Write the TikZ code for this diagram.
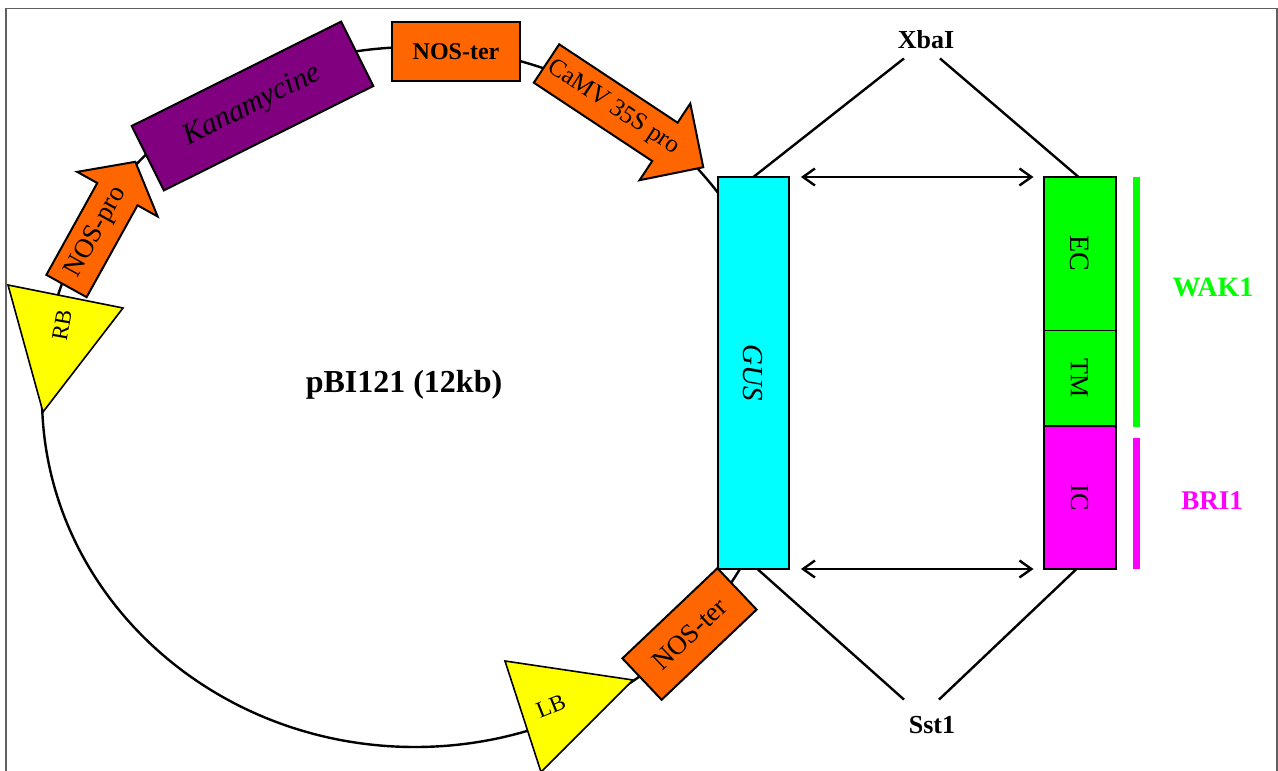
\documentclass[tikz,border=0pt]{standalone}
\usepackage{fontspec}
\setmainfont{Liberation Serif}
\usetikzlibrary{positioning, arrows.meta, calc}
\definecolor{promoorange}{HTML}{FF6600}
\definecolor{kanpurple}{HTML}{800080}
\definecolor{bordeyellow}{HTML}{FFFF00}
\definecolor{guscyan}{HTML}{00FFFF}
\definecolor{wakgreen}{HTML}{00FF00}
\definecolor{brimagenta}{HTML}{FF00FF}
\definecolor{framegray}{HTML}{606060}
\newcommand{\fs}[1]{\fontsize{#1}{#1}\selectfont}

% block arrow for the promoters: length, head length, text, font size
\tikzset{
  pics/promoter/.style n args={4}{code={
    \filldraw[promo] (0,-23) -- ({#1-#2},-23) -- ({#1-#2},-46) -- (#1,0)
      -- ({#1-#2},46) -- ({#1-#2},23) -- (0,23) -- cycle;
    \node[inner sep=0pt, font=\fs{#4}] (-lbl) at ({(#1-#2)/2+9},0) {#3};
  }},
}

\begin{document}
\begin{tikzpicture}[
    x=1pt, y=-1pt,
    >={Straight Barb[length=12pt, width=17pt]},
    wire/.style={line width=2.4pt},
    promo/.style={draw, line width=2pt, fill=promoorange},
    gene/.style={draw, line width=2pt, inner sep=0pt, outer sep=0pt},
    border/.style={draw, line width=1.6pt, fill=bordeyellow},
    domtext/.style={font=\fs{26}, inner sep=0pt, rotate=-90},
    site/.style={font=\bfseries\fs{26}, inner sep=0pt, anchor=base},
    bar/.style={inner sep=0pt, minimum width=6.5pt},
]
\useasboundingbox (0,0) rectangle (1278,771);
\draw[framegray, line width=1.5pt] (6,771) -- (6,8.5) -- (1277,8.5) -- (1277,771);

% plasmid backbone
\draw[wire] (415,397) ellipse [x radius=373, y radius=350];
\node[font=\bfseries\fs{32}] (pbi) at (404,385) {pBI121 (12kb)};

% T-DNA borders
\filldraw[border] (8,285) -- (123,308) -- (43,412) -- cycle;
\node[font=\fs{23}, rotate=80, inner sep=0pt] (rb) at (62,325) {RB};
\filldraw[border] (505,661) -- (633,680) -- (541,772) -- cycle;
\node[font=\fs{23}, rotate=22, inner sep=0pt] (lb) at (551,706) {LB};

% cassette elements
\pic[rotate=61, transform shape] (nospro) at (66.5,286) {promoter={142}{37}{NOS-pro}{27}};
\node[gene, fill=kanpurple, rotate=26.5, minimum width=234pt, minimum height=72pt,
      font=\itshape\fs{30}] (kan) at (252.5,106) {Kanamycine};
\node[gene, fill=promoorange, minimum width=128pt, minimum height=59pt,
      font=\bfseries\fs{24}] (noster) at (456,51.5) {NOS-ter};
\pic[rotate=-33.5, transform shape] (camv) at (546.5,63.5) {promoter={188}{46}{CaMV 35S pro}{25}};
\node[gene, fill=promoorange, rotate=43.5, minimum width=131pt, minimum height=57pt,
      font=\fs{27}] (nosterb) at (689.5,634) {NOS-ter};

% GUS and the WAK1/BRI1 chimera
\node[gene, fill=guscyan, minimum width=71pt, minimum height=392pt] (gus) at (753.4,373) {};
\node[domtext, font=\itshape\fs{29}] (guslbl) at (gus.center) {GUS};
\node[gene, fill=wakgreen, draw=none, minimum width=72pt, minimum height=153pt] (ec) at (1079.5,253.5) {};
\node[gene, fill=wakgreen, draw=none, minimum width=72pt, minimum height=96pt, below=0pt of ec] (tm) {};
\node[gene, fill=brimagenta, minimum width=72pt, minimum height=143pt, below=0pt of tm] (ic) {};
\draw[line width=0.8pt] (ec.south west) -- (ec.south east);
\draw[line width=2pt] (ec.north west) rectangle (tm.south east);
\node[domtext, font=\fs{28}] (eclbl) at (ec.center) {EC};
\node[domtext] (tmlbl) at (tm.center) {TM};
\node[domtext] (iclbl) at (ic.center) {IC};

\node[bar, fill=wakgreen, minimum height=250pt] (wakbar) at (1136.5,302) {};
\node[bar, fill=brimagenta, minimum height=131pt] (bribar) at (1136.5,503.5) {};
\node[font=\bfseries\fs{28}, text=wakgreen] (wak) at (1213,287) {WAK1};
\node[font=\bfseries\fs{27}, text=brimagenta] (bri) at (1212,501) {BRI1};

\draw[wire, <->] ([xshift=12pt]gus.north east) -- ([xshift=-10pt]ec.north west);
\draw[wire, <->] ([xshift=12pt]gus.south east) -- ([xshift=-10pt]ic.south west);

% restriction sites
\node[site] (xba) at (926,48) {XbaI};
\node[site] (sst) at (932,733) {Sst1};
\draw[wire] (gus.north) -- ([xshift=-22pt, yshift=-10pt]xba.south);
\draw[wire] ([xshift=14pt, yshift=-10pt]xba.south) -- ([xshift=-1pt]ec.north);
\draw[wire] ([xshift=4pt]gus.south) -- ([xshift=-28pt, yshift=16pt]sst.north);
\draw[wire] ([xshift=7pt, yshift=16pt]sst.north) -- ([xshift=-3pt]ic.south);
\end{tikzpicture}
\end{document}
